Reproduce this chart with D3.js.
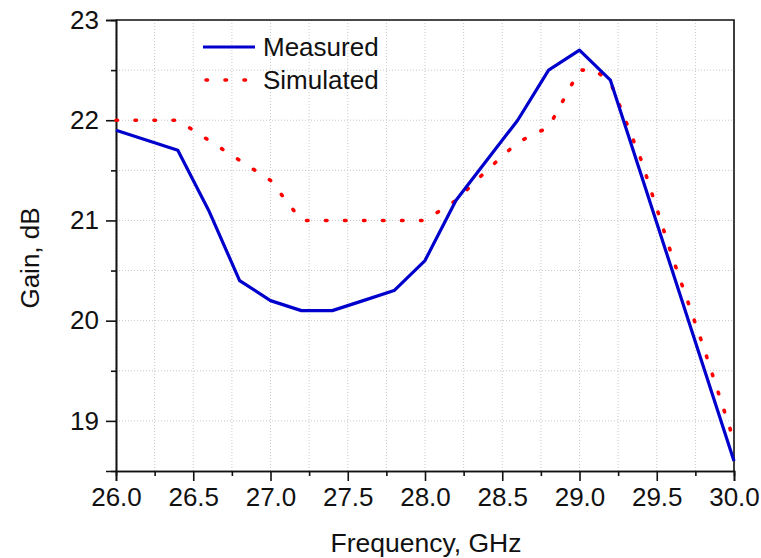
<!DOCTYPE html>
<html>
<head>
<meta charset="utf-8">
<script src="https://d3js.org/d3.v7.min.js"></script>
<style>
  body { margin: 0; background: #fff; }
  svg text { font-family: "Liberation Sans", Arial, sans-serif; fill: #111; }
</style>
</head>
<body>
<svg id="chart" width="761" height="558"></svg>
<script>
// data
const freqMeasured = [26.0, 26.4, 26.6, 26.8, 27.0, 27.2, 27.4, 27.6, 27.8, 28.0, 28.2, 28.4, 28.6, 28.8, 29.0, 29.2, 29.4, 29.6, 29.8, 30.0];
const gainMeasured = [21.9, 21.7, 21.1, 20.4, 20.2, 20.1, 20.1, 20.2, 20.3, 20.6, 21.2, 21.6, 22.0, 22.5, 22.7, 22.4, 21.45, 20.5, 19.55, 18.6];
const freqSimulated = [26.0, 26.4, 26.6, 26.8, 27.0, 27.2, 27.4, 27.6, 27.8, 28.0, 28.2, 28.4, 28.6, 28.8, 29.0, 29.1, 29.2, 29.4, 29.6, 29.8, 30.0];
const gainSimulated = [22.0, 22.0, 21.8, 21.6, 21.4, 21.0, 21.0, 21.0, 21.0, 21.0, 21.2, 21.5, 21.78, 21.93, 22.5, 22.5, 22.38, 21.6, 20.64, 19.75, 18.8];
const xTickLabels = ["26.0", "26.5", "27.0", "27.5", "28.0", "28.5", "29.0", "29.5", "30.0"];
const yTickLabels = ["19", "20", "21", "22", "23"];
const seriesNames = ["Measured", "Simulated"];

const svg = d3.select("#chart");
const W = +svg.attr("width"), H = +svg.attr("height");
const margin = {top: 20, right: 27, bottom: 87, left: 116};
const iw = W - margin.left - margin.right;
const ih = H - margin.top - margin.bottom;

const x = d3.scaleLinear().domain([26, 30]).range([0, iw]);
const y = d3.scaleLinear().domain([18.5, 23]).range([ih, 0]);

const g = svg.append("g").attr("transform", `translate(${margin.left},${margin.top})`);

// grid at major and minor ticks
const xGrid = d3.range(26, 30.001, 0.25);
const yGrid = d3.range(19, 23.001, 0.5);
g.append("g").selectAll("line").data(xGrid).join("line")
  .attr("x1", d => x(d)).attr("x2", d => x(d))
  .attr("y1", 0).attr("y2", ih)
  .attr("stroke", "#c8c8c8").attr("stroke-width", 1).attr("stroke-dasharray", "1,2");
g.append("g").selectAll("line").data(yGrid).join("line")
  .attr("x1", 0).attr("x2", iw)
  .attr("y1", d => y(d)).attr("y2", d => y(d))
  .attr("stroke", "#c8c8c8").attr("stroke-width", 1).attr("stroke-dasharray", "1,2");

// frame (top and right)
g.append("path")
  .attr("d", `M0,0H${iw}V${ih}`)
  .attr("fill", "none").attr("stroke", "#111").attr("stroke-width", 1.6);

// axes
const xAxis = d3.axisBottom(x)
  .tickValues(xTickLabels.map(Number))
  .tickFormat(d3.format(".1f"))
  .tickSize(10).tickPadding(7);
const xMinor = d3.axisBottom(x)
  .tickValues(d3.range(26.25, 30, 0.5))
  .tickSize(5).tickFormat("");
const yAxis = d3.axisLeft(y)
  .tickValues(yTickLabels.map(Number))
  .tickFormat(d3.format("d"))
  .tickSize(10).tickPadding(7);
const yMinor = d3.axisLeft(y)
  .tickValues(d3.range(19.5, 23, 1))
  .tickSize(5).tickFormat("");

function styleAxis(sel) {
  sel.select(".domain").attr("stroke", "#111").attr("stroke-width", 1.6);
  sel.selectAll(".tick line").attr("stroke", "#111").attr("stroke-width", 1.6);
  sel.selectAll(".tick text").attr("font-size", 26).attr("fill", "#111")
    .attr("font-family", "Liberation Sans, Arial, sans-serif");
}
g.append("g").attr("transform", `translate(0,${ih})`).call(xMinor).call(styleAxis);
g.append("g").attr("transform", `translate(0,${ih})`).call(xAxis).call(styleAxis);
g.append("g").call(yMinor).call(styleAxis);
g.append("g").call(yAxis).call(styleAxis);

// data lines
const measured = freqMeasured.map((f, i) => ({f, v: gainMeasured[i]}));
const simulated = freqSimulated.map((f, i) => ({f, v: gainSimulated[i]}));
const line = d3.line().x(d => x(d.f)).y(d => y(d.v));

g.append("path").datum(simulated)
  .attr("d", line)
  .attr("fill", "none").attr("stroke", "#ff0000")
  .attr("stroke-width", 3.6).attr("stroke-linecap", "round")
  .attr("stroke-dasharray", "1.5,17.5");
g.append("path").datum(measured)
  .attr("d", line)
  .attr("fill", "none").attr("stroke", "#0000cc")
  .attr("stroke-width", 3.2).attr("stroke-linejoin", "round");

// legend
const legend = g.append("g").attr("transform", "translate(87,27)");
legend.append("line").attr("x1", 0).attr("x2", 52).attr("y1", 0).attr("y2", 0)
  .attr("stroke", "#0000cc").attr("stroke-width", 3.2);
legend.append("line").attr("x1", 3).attr("x2", 52).attr("y1", 33).attr("y2", 33)
  .attr("stroke", "#ff0000").attr("stroke-width", 3.6).attr("stroke-linecap", "round")
  .attr("stroke-dasharray", "1.5,17.5");
legend.selectAll("text").data(seriesNames).join("text")
  .attr("x", 60).attr("y", (d, i) => i * 33)
  .attr("dy", "0.35em")
  .attr("font-size", 26)
  .text(d => d);

// axis titles
svg.append("text")
  .attr("x", margin.left + iw / 2 + 1).attr("y", 552)
  .attr("text-anchor", "middle").attr("font-size", 26.5)
  .text("Frequency, GHz");
svg.append("text")
  .attr("transform", "translate(39,258) rotate(-90)")
  .attr("text-anchor", "middle").attr("font-size", 26)
  .text("Gain, dB");
</script>
</body>
</html>
